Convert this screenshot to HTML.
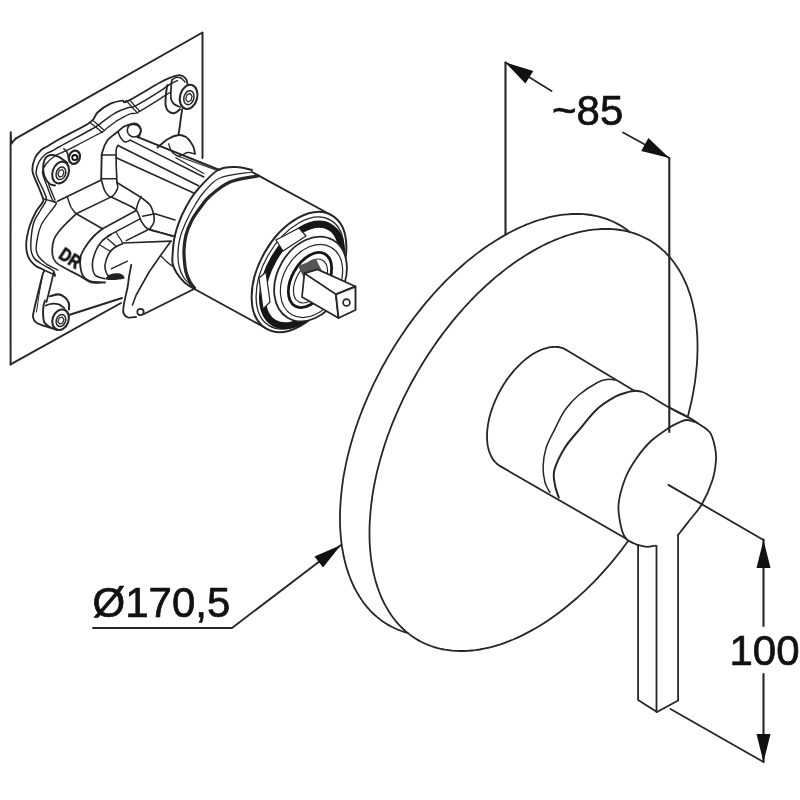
<!DOCTYPE html>
<html><head><meta charset="utf-8"><style>
html,body{margin:0;padding:0;background:#fff;}
svg{display:block;}
text{font-family:"Liberation Sans",sans-serif;fill:#111;stroke:#111;stroke-width:0.7px;}
</style></head><body>
<svg width="800" height="800" viewBox="0 0 800 800" stroke-linecap="round" stroke-linejoin="round">
<rect width="800" height="800" fill="#fff"/>
<path d="M388.5,625.1 L391.6,626.8 L394.8,628.3 L398.0,629.7 L401.4,631.0 L404.8,632.1 L407.8,633.0" stroke="#262626" stroke-width="1.80" fill="none"/>
<path d="M629.8,232.0 L629.7,232.0 L626.9,229.8 L624.0,227.8 L621.0,225.8 L618.0,224.1 L614.8,222.5 L611.6,221.0 L608.3,219.6 L604.9,218.4 L601.5,217.3 L598.0,216.4 L594.4,215.7 L590.8,215.0 L587.1,214.5 L583.4,214.2 L579.6,214.0 L575.7,213.9 L571.8,214.0 L567.9,214.3 L563.9,214.7 L559.8,215.2 L555.8,215.9 L551.7,216.7 L547.5,217.7 L543.3,218.8 L539.1,220.0 L534.9,221.4 L530.7,223.0 L526.4,224.6 L522.1,226.5 L517.8,228.4 L513.5,230.5 L509.2,232.7 L504.9,235.1 L500.6,237.6 L496.3,240.2 L492.0,242.9 L487.7,245.8 L483.4,248.8 L479.1,251.9 L474.9,255.1 L470.7,258.5 L466.4,261.9 L462.3,265.5 L458.1,269.2 L454.0,273.0 L449.9,276.9 L445.8,280.9 L441.8,285.0 L437.9,289.2 L433.9,293.5 L430.1,297.9 L426.2,302.4 L422.5,306.9 L418.8,311.6 L415.1,316.3 L411.5,321.1 L408.0,325.9 L404.5,330.9 L401.1,335.9 L397.8,340.9 L394.6,346.0 L391.4,351.2 L388.3,356.4 L385.3,361.7 L382.3,367.0 L379.5,372.4 L376.7,377.8 L374.0,383.2 L371.5,388.6 L369.0,394.1 L366.6,399.6 L364.3,405.1 L362.0,410.7 L359.9,416.2 L357.9,421.8 L356.0,427.3 L354.2,432.8 L352.5,438.4 L350.9,443.9 L349.4,449.4 L348.0,454.9 L346.7,460.4 L345.6,465.9 L344.5,471.3 L343.5,476.7 L342.7,482.1 L342.0,487.4 L341.4,492.7 L340.9,497.9 L340.5,503.1 L340.2,508.2 L340.0,513.3 L340.0,518.3 L340.0,523.2 L340.2,528.1 L340.5,532.9 L340.9,537.6 L341.4,542.3 L342.0,546.9 L342.8,551.4 L343.6,555.8 L344.6,560.1 L345.6,564.3 L346.8,568.4 L348.1,572.4 L349.5,576.3 L351.0,580.2 L352.6,583.9 L354.3,587.5 L356.1,590.9 L358.1,594.3 L360.1,597.6 L362.2,600.7 L364.4,603.7 L366.7,606.6 L369.1,609.4 L371.6,612.0 L374.2,614.5 L376.9,616.9 L379.7,619.1 L382.5,621.2 L385.5,623.2 L388.5,625.1" stroke="#262626" stroke-width="1.80" fill="none"/>
<path d="M418.0,640.1 L421.1,641.8 L424.3,643.3 L427.5,644.7 L430.9,646.0 L434.3,647.1 L437.7,648.1 L441.3,649.0 L444.9,649.7 L448.5,650.2 L452.2,650.7 L456.0,650.9 L459.8,651.0 L463.7,651.0 L467.6,650.9 L471.6,650.5 L475.6,650.1 L479.7,649.5 L483.8,648.7 L487.9,647.8 L492.1,646.8 L496.2,645.6 L500.5,644.3 L504.7,642.8 L509.0,641.2 L513.2,639.5 L517.5,637.6 L521.8,635.6 L526.1,633.4 L530.4,631.1 L534.7,628.7 L539.0,626.2 L543.4,623.5 L547.7,620.7 L551.9,617.7 L556.2,614.7 L560.5,611.5 L564.7,608.2 L568.9,604.8 L573.1,601.3 L577.3,597.7 L581.5,593.9 L585.6,590.1 L589.6,586.1 L593.7,582.1 L597.7,577.9 L601.6,573.7 L605.5,569.3 L609.4,564.9 L613.2,560.4 L616.9,555.8 L620.6,551.1 L624.2,546.3 L627.8,541.5 L628.1,541.0" stroke="#262626" stroke-width="1.80" fill="none"/>
<path d="M687.8,416.7 L688.8,412.8 L690.1,407.3 L691.4,401.8 L692.5,396.4 L693.5,391.0 L694.4,385.6 L695.2,380.3 L695.8,375.0 L696.4,369.7 L696.9,364.5 L697.2,359.4 L697.4,354.3 L697.5,349.2 L697.5,344.2 L697.4,339.3 L697.2,334.5 L696.8,329.7 L696.4,325.0 L695.8,320.4 L695.1,315.9 L694.3,311.4 L693.4,307.1 L692.4,302.8 L691.3,298.6 L690.1,294.6 L688.7,290.6 L687.3,286.7 L685.7,283.0 L684.0,279.3 L682.3,275.8 L680.4,272.4 L678.4,269.0 L676.4,265.9 L674.2,262.8 L671.9,259.8 L669.6,257.0 L667.1,254.3 L664.6,251.7 L661.9,249.3 L659.2,247.0 L656.4,244.8 L653.5,242.8 L650.5,240.8 L647.5,239.1 L644.3,237.5 L641.1,236.0 L637.8,234.6 L634.4,233.4 L631.0,232.3 L627.5,231.4 L623.9,230.7 L620.3,230.0 L616.6,229.5 L612.9,229.2 L609.1,229.0 L605.2,228.9 L601.3,229.0 L597.4,229.3 L593.4,229.7 L589.3,230.2 L585.3,230.9 L581.2,231.7 L577.0,232.7 L572.8,233.8 L568.6,235.0 L564.4,236.4 L560.2,238.0 L555.9,239.6 L551.6,241.5 L547.3,243.4 L543.0,245.5 L538.7,247.7 L534.4,250.1 L530.1,252.6 L525.8,255.2 L521.5,257.9 L517.2,260.8 L512.9,263.8 L508.6,266.9 L504.4,270.1 L500.2,273.5 L495.9,276.9 L491.8,280.5 L487.6,284.2 L483.5,288.0 L479.4,291.9 L475.3,295.9 L471.3,300.0 L467.4,304.2 L463.4,308.5 L459.6,312.9 L455.7,317.4 L452.0,321.9 L448.3,326.6 L444.6,331.3 L441.0,336.1 L437.5,340.9 L434.0,345.9 L430.6,350.9 L427.3,355.9 L424.1,361.0 L420.9,366.2 L417.8,371.4 L414.8,376.7 L411.8,382.0 L409.0,387.4 L406.2,392.8 L403.5,398.2 L401.0,403.6 L398.5,409.1 L396.1,414.6 L393.8,420.1 L391.5,425.7 L389.4,431.2 L387.4,436.8 L385.5,442.3 L383.7,447.8 L382.0,453.4 L380.4,458.9 L378.9,464.4 L377.5,469.9 L376.2,475.4 L375.1,480.9 L374.0,486.3 L373.0,491.7 L372.2,497.1 L371.5,502.4 L370.9,507.7 L370.4,512.9 L370.0,518.1 L369.7,523.2 L369.5,528.3 L369.5,533.3 L369.5,538.2 L369.7,543.1 L370.0,547.9 L370.4,552.6 L370.9,557.3 L371.5,561.9 L372.3,566.4 L373.1,570.8 L374.1,575.1 L375.1,579.3 L376.3,583.4 L377.6,587.4 L379.0,591.3 L380.5,595.2 L382.1,598.9 L383.8,602.5 L385.6,605.9 L387.6,609.3 L389.6,612.6 L391.7,615.7 L393.9,618.7 L396.2,621.6 L398.6,624.4 L401.1,627.0 L403.7,629.5 L406.4,631.9 L409.2,634.1 L412.0,636.2 L415.0,638.2 L418.0,640.1" stroke="#262626" stroke-width="1.80" fill="none"/>
<path d="M566.0,349.7 L564.7,349.0 L563.3,348.4 L561.9,347.9 L560.4,347.5 L558.9,347.2 L557.4,347.0 L555.8,346.9 L554.2,346.9 L552.5,347.0 L550.8,347.2 L549.1,347.4 L547.4,347.8 L545.6,348.3 L543.8,348.8 L542.0,349.5 L540.2,350.2 L538.4,351.1 L536.5,352.0 L534.7,353.0 L532.9,354.1 L531.0,355.3 L529.2,356.6 L527.4,357.9 L525.5,359.3 L523.7,360.9 L521.9,362.4 L520.2,364.1 L518.4,365.8 L516.7,367.6 L515.0,369.5 L513.3,371.4 L511.7,373.4 L510.1,375.4 L508.5,377.5 L506.9,379.6 L505.5,381.8 L504.0,384.0 L502.6,386.3 L501.3,388.5 L500.0,390.9 L498.7,393.2 L497.5,395.6 L496.4,398.0 L495.3,400.4 L494.3,402.8 L493.3,405.2 L492.4,407.7 L491.6,410.1 L490.8,412.5 L490.1,414.9 L489.5,417.3 L488.9,419.7 L488.5,422.1 L488.0,424.5 L487.7,426.8 L487.4,429.1 L487.2,431.4 L487.1,433.6 L487.0,435.8 L487.0,437.9 L487.1,440.0 L487.3,442.1 L487.5,444.1 L487.8,446.0 L488.2,447.9 L488.7,449.7 L489.2,451.4 L489.8,453.1 L490.5,454.7 L491.2,456.3 L492.0,457.7 L492.8,459.1 L493.8,460.4 L494.7,461.6 L495.8,462.7 L496.9,463.8 L498.1,464.7 L499.3,465.6 L500.6,466.4" stroke="#262626" stroke-width="1.80" fill="none"/>
<path d="M566.0,349.7 L633.8,390.6" stroke="#262626" stroke-width="1.80" fill="none"/>
<path d="M633.8,390.6 C635.2,390.8 639.8,391.1 642.5,392.0 C645.2,392.9 645.4,393.3 650.0,396.0 C654.6,398.7 663.8,404.5 670.0,408.0 C676.2,411.5 684.6,415.4 687.5,416.9" stroke="#262626" stroke-width="1.80" fill="none"/>
<path d="M670.0,408.0 C672.9,409.5 682.9,414.4 687.5,416.9 C692.1,419.4 693.8,420.4 697.5,423.0 C701.2,425.6 707.1,428.4 710.0,432.5 C712.9,436.6 714.0,442.9 715.0,447.5 C716.0,452.1 716.4,454.6 716.0,460.0 C715.6,465.4 714.8,472.7 712.5,480.0 C710.2,487.3 705.9,497.2 702.0,504.0 C698.1,510.8 693.0,515.8 689.0,521.0 C685.0,526.2 679.9,532.7 678.1,535.0" stroke="#262626" stroke-width="1.80" fill="none"/>
<path d="M500.6,466.4 L626.2,538.8" stroke="#262626" stroke-width="1.80" fill="none"/>
<path d="M615.0,380.0 C613.8,379.9 610.4,379.0 607.5,379.4 C604.6,379.8 602.3,379.9 597.5,382.5 C592.7,385.1 584.2,390.4 578.8,395.0 C573.3,399.6 569.0,404.4 565.0,410.0 C561.0,415.6 558.1,422.5 555.0,428.8 C551.9,435.0 548.2,441.2 546.2,447.5 C544.3,453.8 543.3,460.4 543.1,466.2 C542.9,472.1 543.9,478.1 545.0,482.5 C546.1,486.9 549.2,490.8 550.0,492.5" stroke="#262626" stroke-width="1.50" fill="none"/>
<path d="M635.0,391.0 C634.0,391.1 631.9,391.0 628.8,391.9 C625.6,392.8 621.5,393.4 616.2,396.2 C611.0,399.1 603.5,403.3 597.5,408.8 C591.5,414.2 585.4,422.3 580.0,428.8 C574.6,435.2 569.3,440.6 565.0,447.5 C560.7,454.4 556.1,463.8 554.4,470.0 C552.7,476.2 554.3,480.4 555.0,485.0 C555.7,489.6 558.1,495.4 558.8,497.5" stroke="#262626" stroke-width="2.00" fill="none"/>
<path d="M697.5,423.0 C695.8,422.5 690.4,420.2 687.5,420.0 C684.6,419.8 683.0,420.8 680.0,422.0 C677.0,423.2 674.2,424.3 669.4,427.5 C664.6,430.7 656.6,435.8 651.0,441.0 C645.4,446.2 640.3,452.7 636.0,459.0 C631.7,465.3 627.9,471.3 625.0,479.0 C622.1,486.7 619.1,496.9 618.5,505.0 C617.9,513.1 620.0,521.9 621.2,527.5 C622.5,533.1 623.5,535.8 626.2,538.8 C629.0,541.7 635.6,544.0 637.5,545.0" stroke="#262626" stroke-width="1.80" fill="none"/>
<path d="M637.5,545.0 C639.1,545.3 643.9,546.8 646.9,546.9 C649.9,547.0 654.1,545.8 655.6,545.6" stroke="#262626" stroke-width="1.80" fill="none"/>
<path d="M638.1,545.0 L638.1,700.0 L657.0,712.0 L678.1,700.5 L678.1,535.0" stroke="#262626" stroke-width="1.80" fill="none"/>
<path d="M656.5,546.0 L656.5,712.0" stroke="#262626" stroke-width="1.80" fill="none"/>
<path d="M505.5,62.5 L505.5,234.0" stroke="#262626" stroke-width="2.10" fill="none"/>
<path d="M669.3,158.0 L669.3,432.0" stroke="#262626" stroke-width="2.10" fill="none"/>
<path d="M505.5,62.5 L551.5,91.0" stroke="#262626" stroke-width="1.80" fill="none"/>
<path d="M623.0,132.5 L669.3,158.0" stroke="#262626" stroke-width="1.80" fill="none"/>
<path d="M505.5,62.5 L533.3,70.9 L525.4,83.6 Z" fill="#111" stroke="none"/>
<path d="M669.3,158.0 L641.2,151.1 L648.4,137.9 Z" fill="#111" stroke="none"/>
<path d="M668.4,484.9 L763.5,540.0" stroke="#262626" stroke-width="1.80" fill="none"/>
<path d="M670.5,709.0 L763.5,762.0" stroke="#262626" stroke-width="1.80" fill="none"/>
<path d="M763.5,539.5 L763.5,626.0" stroke="#262626" stroke-width="2.10" fill="none"/>
<path d="M763.5,674.0 L763.5,762.0" stroke="#262626" stroke-width="2.10" fill="none"/>
<path d="M763.5,540.0 L770.5,568.0 L756.5,568.0 Z" fill="#111" stroke="none"/>
<path d="M763.5,762.0 L756.5,734.0 L770.5,734.0 Z" fill="#111" stroke="none"/>
<path d="M93.0,628.0 L232.0,628.0 L341.0,545.0" stroke="#262626" stroke-width="1.80" fill="none"/>
<path d="M341.0,545.0 L323.0,567.5 L314.5,556.4 Z" fill="#111" stroke="none"/>
<path d="M10.6,364.4 C10.6,328.7 10.4,186.8 10.6,150.0 C10.8,113.2 10.6,145.4 11.5,143.5 C12.4,141.6 15.2,139.2 16.0,138.4" stroke="#262626" stroke-width="1.95" fill="none"/>
<path d="M16.0,138.4 L202.5,32.5 L202.5,158.0" stroke="#262626" stroke-width="1.95" fill="none"/>
<path d="M10.6,364.4 L121.0,303.0" stroke="#262626" stroke-width="1.95" fill="none"/>
<path d="M187.5,84.0 C187.2,83.1 187.2,80.2 186.0,78.8 C184.8,77.3 182.3,75.5 180.0,75.2 C177.7,74.9 175.3,75.8 172.0,77.0 C168.7,78.2 167.4,78.5 160.0,82.5 C152.6,86.5 133.8,98.2 127.5,101.2 C121.2,104.3 125.4,100.2 122.5,100.6 C119.6,101.0 114.2,101.8 110.0,103.8 C105.8,105.7 100.8,109.4 97.5,112.5 C94.2,115.6 96.2,118.1 90.0,122.5 C83.8,126.9 67.0,134.8 60.0,138.8 C53.0,142.7 51.1,144.1 48.0,146.0 C44.9,147.9 43.4,148.0 41.2,150.0 C39.1,152.0 36.5,154.5 35.0,158.0 C33.5,161.5 31.9,166.3 32.5,171.2 C33.1,176.2 37.0,182.9 38.8,187.5 C40.5,192.1 42.5,196.2 43.1,198.8 C43.7,201.2 43.6,200.4 42.5,202.5 C41.4,204.6 38.3,207.5 36.2,211.2 C34.2,215.0 31.6,220.6 30.0,225.0 C28.4,229.4 27.5,234.2 26.9,237.5 C26.3,240.8 26.2,242.5 26.2,245.0 C26.2,247.5 26.3,250.0 26.9,252.5 C27.5,255.0 28.4,257.7 30.0,260.0 C31.6,262.3 34.0,264.6 36.2,266.2 C38.5,267.9 42.7,268.5 43.8,270.0 C44.8,271.5 43.3,271.7 42.5,275.0 C41.7,278.3 40.2,284.0 38.8,290.0 C37.3,296.0 34.7,306.7 33.8,311.2 C32.8,315.8 32.7,315.6 33.1,317.5 C33.5,319.4 34.3,321.0 36.2,322.5 C38.2,324.0 42.4,325.3 45.0,326.2 C47.6,327.2 50.8,327.7 52.0,328.0" stroke="#262626" stroke-width="1.84" fill="none"/>
<path d="M177.5,80.6 C176.0,81.3 171.7,83.2 168.8,85.0 C165.8,86.8 165.6,87.7 160.0,91.2 C154.4,94.8 140.2,103.5 135.0,106.2 C129.8,109.0 132.3,106.2 128.8,107.5 C125.2,108.8 118.5,111.0 113.8,113.8 C109.0,116.5 103.6,121.2 100.0,123.8 C96.4,126.3 98.7,125.2 92.0,129.0 C85.3,132.8 66.7,142.8 60.0,146.5 C53.3,150.2 54.3,149.8 52.0,151.0 C49.7,152.2 48.4,151.9 46.2,153.8 C44.1,155.6 40.7,158.7 39.0,162.0 C37.3,165.3 35.5,168.9 36.2,173.8 C37.0,178.6 42.1,186.9 43.8,191.2 C45.4,195.6 46.8,196.9 46.2,200.0 C45.7,203.1 42.7,206.2 40.6,210.0 C38.5,213.8 35.3,217.9 33.8,222.5 C32.2,227.1 31.7,232.9 31.2,237.5 C30.8,242.1 30.5,246.6 31.0,250.0 C31.5,253.4 32.5,255.8 34.0,258.0 C35.5,260.2 37.5,261.3 40.0,263.0 C42.5,264.7 46.7,266.6 49.0,268.0 C51.3,269.4 52.8,269.9 53.8,271.2 C54.8,272.6 54.8,275.4 55.0,276.2" stroke="#262626" stroke-width="1.49" fill="none"/>
<path d="M170.0,92.5 C168.3,93.5 165.4,95.4 160.0,98.8 C154.6,102.1 142.5,110.0 137.5,112.5 C132.5,115.0 133.5,112.3 130.0,113.8 C126.5,115.2 120.2,118.8 116.2,121.2 C112.3,123.8 108.8,126.9 106.2,128.8 C103.8,130.6 107.3,129.2 101.2,132.5 C95.2,135.8 77.7,144.8 70.0,148.8 C62.3,152.7 59.0,153.5 55.0,156.0 C51.0,158.5 48.1,161.2 46.0,164.0 C43.9,166.8 42.3,168.8 42.5,172.5 C42.7,176.2 45.3,181.4 47.0,186.0 C48.7,190.6 51.0,197.0 52.5,200.0 C54.0,203.0 56.9,201.5 56.2,203.8 C55.6,206.0 51.2,210.2 48.8,213.8 C46.2,217.3 43.1,221.0 41.2,225.0 C39.4,229.0 38.3,233.3 37.5,237.5 C36.7,241.7 36.0,246.8 36.2,250.0 C36.5,253.2 37.3,254.7 39.0,257.0 C40.7,259.3 43.1,261.6 46.2,263.8 C49.4,265.9 56.0,269.0 58.0,270.0" stroke="#262626" stroke-width="1.38" fill="none"/>
<path d="M90.0,122.5 L102.5,132.5" stroke="#262626" stroke-width="1.38" fill="none"/>
<path d="M93.0,120.5 L104.5,130.5" stroke="#262626" stroke-width="1.15" fill="none"/>
<path d="M126.2,100.6 L137.5,113.1" stroke="#262626" stroke-width="1.38" fill="none"/>
<path d="M129.5,100.0 L139.5,111.0" stroke="#262626" stroke-width="1.15" fill="none"/>
<path d="M43.8,198.8 L56.2,202.5" stroke="#262626" stroke-width="1.38" fill="none"/>
<path d="M43.8,270.0 L55.0,275.0" stroke="#262626" stroke-width="1.38" fill="none"/>
<path d="M42.5,276.0 C42.0,278.7 40.5,286.0 39.5,292.0 C38.5,298.0 37.0,308.7 36.5,312.0" stroke="#262626" stroke-width="1.03" fill="none"/>
<path d="M53.7,272.5 C53.1,275.1 51.2,283.1 50.0,288.0 C48.8,292.9 47.1,299.7 46.5,302.0" stroke="#262626" stroke-width="1.72" fill="none"/>
<path d="M171.8,80.0 C171.6,81.7 171.1,86.9 171.0,90.0 C170.9,93.1 170.5,96.4 171.0,98.8 C171.5,101.1 172.5,102.6 174.0,104.0 C175.5,105.4 179.0,106.5 180.0,107.0" stroke="#262626" stroke-width="1.72" fill="none"/>
<path d="M167.2,85.2 C167.0,87.0 166.0,92.5 165.8,96.0 C165.5,99.5 165.2,103.7 165.8,106.2 C166.2,108.8 167.2,110.4 168.8,111.5 C170.2,112.6 172.9,113.4 174.8,113.0 C176.6,112.6 179.1,109.9 180.0,109.2" stroke="#262626" stroke-width="1.95" fill="none"/>
<path d="M171.8,80.0 C172.5,79.6 174.5,77.8 176.0,77.5 C177.5,77.2 179.5,77.2 181.0,78.0 C182.5,78.8 184.3,81.3 185.0,82.0" stroke="#262626" stroke-width="1.49" fill="none"/>
<ellipse cx="188.6" cy="96.9" rx="8.6" ry="12.3" transform="rotate(15 188.6 96.9)" fill="#fff" stroke="#262626" stroke-width="2.07"/>
<ellipse cx="188.9" cy="97.7" rx="4.99" ry="7.13" transform="rotate(15 188.9 97.7)" fill="none" stroke="#262626" stroke-width="1.49"/>
<path d="M190.9,100.5 L187.8,102.0 L185.7,99.1 L186.9,94.9 L190.0,93.4 L192.1,96.3 Z" fill="none" stroke="#262626" stroke-width="1.26"/>
<path d="M182.2,109.2 C182.0,110.5 181.4,114.4 181.0,117.0 C180.6,119.6 180.4,122.2 180.0,125.0 C179.6,127.8 178.8,132.5 178.5,134.0" stroke="#262626" stroke-width="1.84" fill="none"/>
<path d="M67.5,163.0 C67.0,162.6 65.9,161.6 64.4,160.6 C62.9,159.6 60.7,157.8 58.8,156.9 C56.8,156.0 54.4,155.1 52.5,155.0 C50.6,154.9 48.8,155.4 47.5,156.2 C46.2,157.1 45.2,158.2 44.5,160.0 C43.8,161.8 43.1,164.2 43.1,166.9 C43.1,169.6 43.4,173.4 44.4,176.2 C45.4,179.1 47.6,182.2 49.4,183.8 C51.2,185.3 54.1,185.2 55.0,185.5" stroke="#262626" stroke-width="1.95" fill="none"/>
<ellipse cx="60.6" cy="172.5" rx="8.0" ry="11.2" transform="rotate(20 60.6 172.5)" fill="#fff" stroke="#262626" stroke-width="2.07"/>
<ellipse cx="60.9" cy="173.3" rx="4.64" ry="6.50" transform="rotate(20 60.9 173.3)" fill="none" stroke="#262626" stroke-width="1.49"/>
<path d="M62.6,176.0 L59.5,177.1 L57.9,174.3 L59.2,170.6 L62.3,169.5 L63.9,172.3 Z" fill="none" stroke="#262626" stroke-width="1.26"/>
<ellipse cx="74.4" cy="157.2" rx="5.4" ry="6.8" transform="rotate(20 74.4 157.2)" fill="#fff" stroke="#262626" stroke-width="2.30"/>
<circle cx="74.8" cy="157.6" r="2.6" fill="none" stroke="#111" stroke-width="1.84"/>
<path d="M63.8,148.8 C64.3,149.3 66.2,150.5 67.0,152.0 C67.8,153.5 68.2,157.0 68.5,158.0" stroke="#262626" stroke-width="1.61" fill="none"/>
<path d="M48.8,185.0 L55.0,200.0" stroke="#262626" stroke-width="1.38" fill="none"/>
<path d="M50.0,296.2 C51.5,295.9 56.2,294.2 58.8,294.4 C61.2,294.6 63.3,296.1 65.0,297.5 C66.7,298.9 68.1,301.1 68.8,303.1 C69.4,305.1 69.0,308.3 69.0,309.4" stroke="#262626" stroke-width="2.07" fill="none"/>
<path d="M45.0,300.6 C44.8,301.5 43.8,303.9 43.5,306.0 C43.2,308.1 43.0,310.4 43.1,313.1 C43.2,315.9 43.1,320.1 44.4,322.5 C45.6,324.9 48.5,326.2 50.6,327.5 C52.7,328.8 55.9,329.6 56.9,330.0" stroke="#262626" stroke-width="1.95" fill="none"/>
<path d="M45.6,305.6 C46.5,305.3 49.1,303.9 51.2,303.8 C53.4,303.6 56.6,303.7 58.8,304.4 C60.9,305.1 63.5,307.5 64.4,308.1" stroke="#262626" stroke-width="1.72" fill="none"/>
<ellipse cx="60.6" cy="319.7" rx="8.0" ry="10.5" transform="rotate(20 60.6 319.7)" fill="#fff" stroke="#262626" stroke-width="2.07"/>
<ellipse cx="60.9" cy="320.5" rx="4.64" ry="6.09" transform="rotate(20 60.9 320.5)" fill="none" stroke="#262626" stroke-width="1.49"/>
<path d="M62.6,323.1 L59.6,324.0 L57.9,321.4 L59.2,317.9 L62.2,317.0 L63.9,319.6 Z" fill="none" stroke="#262626" stroke-width="1.26"/>
<path d="M69.0,315.0 L122.0,298.0" stroke="#262626" stroke-width="1.84" fill="none"/>
<path d="M131.2,265.0 C130.9,267.0 129.6,273.2 129.0,277.0 C128.4,280.8 128.4,282.8 127.5,287.5 C126.6,292.2 124.4,300.8 123.8,305.0 C123.1,309.2 122.8,310.9 123.5,313.0 C124.2,315.1 125.9,316.8 128.0,317.5 C130.1,318.2 134.7,317.1 136.0,317.0" stroke="#262626" stroke-width="1.84" fill="none"/>
<path d="M170.0,242.5 L160.0,256.2 L148.8,272.5 L136.2,295.0 L132.5,305.0" stroke="#262626" stroke-width="1.61" fill="none"/>
<circle cx="140.5" cy="312" r="3.2" fill="none" stroke="#262626" stroke-width="1.7"/>
<path d="M144.0,314.0 L194.0,289.0" stroke="#262626" stroke-width="1.84" fill="none"/>
<path d="M161.2,256.2 C162.2,257.2 165.1,260.3 167.0,262.0 C168.9,263.7 171.6,265.5 172.5,266.2" stroke="#262626" stroke-width="1.38" fill="none"/>
<path d="M101.2,179.4 C101.3,177.0 101.3,169.5 101.5,165.0 C101.7,160.5 101.2,156.6 102.2,152.5 C103.2,148.4 104.9,143.8 107.5,140.2 C110.1,136.8 115.1,133.9 118.0,131.5 C120.9,129.1 122.1,127.2 125.0,126.0 C127.9,124.8 132.9,123.9 135.5,124.5 C138.1,125.1 140.2,127.7 140.8,129.8 C141.3,131.8 139.3,135.6 139.0,136.8" stroke="#262626" stroke-width="1.84" fill="none"/>
<path d="M116.9,182.0 C116.8,179.2 116.4,170.3 116.2,165.0 C116.1,159.7 116.0,153.2 116.2,150.0 C116.5,146.8 117.7,146.2 118.0,145.5" stroke="#262626" stroke-width="1.61" fill="none"/>
<path d="M118.0,131.5 C118.4,132.5 119.3,135.8 120.5,137.5 C121.7,139.2 123.4,141.5 125.0,142.0 C126.6,142.5 129.4,140.5 130.2,140.2" stroke="#262626" stroke-width="1.49" fill="none"/>
<circle cx="134.1" cy="130.2" r="6.8" fill="none" stroke="#262626" stroke-width="1.61"/>
<path d="M101.2,155.0 L116.2,155.0" stroke="#262626" stroke-width="1.38" fill="none"/>
<path d="M101.2,178.8 L116.2,178.8" stroke="#262626" stroke-width="1.38" fill="none"/>
<path d="M101.2,179.4 C101.9,181.4 103.3,188.3 105.0,191.2 C106.7,194.2 109.2,197.3 111.2,196.9 C113.3,196.5 116.6,191.2 117.5,188.8 C118.4,186.3 117.0,183.1 116.9,182.0" stroke="#262626" stroke-width="1.61" fill="none"/>
<path d="M137.2,136.8 L219.5,170.0" stroke="#262626" stroke-width="1.95" fill="none"/>
<path d="M130.2,140.2 L203.8,177.0" stroke="#262626" stroke-width="1.49" fill="none"/>
<path d="M118.0,145.5 L198.5,185.8" stroke="#262626" stroke-width="1.72" fill="none"/>
<path d="M116.2,157.8 L193.2,192.8" stroke="#262626" stroke-width="1.72" fill="none"/>
<path d="M177.5,156.0 L216.0,170.0" stroke="#262626" stroke-width="1.26" fill="none"/>
<path d="M175.8,157.8 L203.8,173.5" stroke="#262626" stroke-width="1.26" fill="none"/>
<path d="M157.5,147.5 C159.2,146.1 164.5,141.1 168.0,139.0 C171.5,136.9 175.8,135.3 178.8,135.0 C181.8,134.7 184.1,136.0 186.0,137.0 C187.9,138.0 188.8,139.6 190.0,141.2 C191.2,142.9 192.7,144.9 193.5,147.0 C194.3,149.1 194.8,152.6 195.0,153.8" stroke="#262626" stroke-width="1.84" fill="none"/>
<path d="M168.8,143.8 C169.0,144.5 169.4,146.5 170.0,148.0 C170.6,149.5 171.0,151.1 172.5,152.5 C174.0,153.9 176.2,156.2 178.8,156.2 C181.2,156.2 185.0,152.9 187.5,152.5 C190.0,152.1 192.7,153.5 193.8,153.8" stroke="#262626" stroke-width="1.38" fill="none"/>
<path d="M57.5,201.2 L101.2,180.0" stroke="#262626" stroke-width="1.72" fill="none"/>
<path d="M67.5,197.5 C68.1,199.2 69.8,204.8 71.2,207.5 C72.7,210.2 75.4,212.7 76.2,213.8" stroke="#262626" stroke-width="1.49" fill="none"/>
<path d="M76.2,213.8 L111.2,196.9" stroke="#262626" stroke-width="1.61" fill="none"/>
<path d="M111.2,196.9 C113.5,198.0 120.8,201.3 125.0,203.5 C129.2,205.7 133.5,207.0 136.2,210.0 C139.0,213.0 139.4,218.1 141.2,221.2 C143.1,224.4 144.4,226.9 147.5,228.8 C150.6,230.6 155.4,231.2 160.0,232.5 C164.6,233.8 172.5,235.6 175.0,236.2" stroke="#262626" stroke-width="1.61" fill="none"/>
<path d="M116.9,182.5 L141.2,197.5" stroke="#262626" stroke-width="1.61" fill="none"/>
<path d="M141.2,197.5 C142.7,198.8 147.9,202.1 150.0,205.0 C152.1,207.9 153.1,212.1 153.8,215.0 C154.4,217.9 154.4,220.2 153.8,222.5 C153.1,224.8 150.6,227.7 150.0,228.8" stroke="#262626" stroke-width="1.61" fill="none"/>
<path d="M141.2,196.5 C140.7,197.6 138.8,200.8 138.0,203.0 C137.2,205.2 136.5,208.8 136.2,210.0" stroke="#262626" stroke-width="1.49" fill="none"/>
<path d="M76.2,213.8 L102.5,228.8" stroke="#262626" stroke-width="1.61" fill="none"/>
<path d="M102.5,228.8 L136.2,210.5" stroke="#262626" stroke-width="1.61" fill="none"/>
<path d="M107.5,236.2 L140.0,218.8" stroke="#262626" stroke-width="1.49" fill="none"/>
<path d="M142.5,216.2 L155.0,213.8 L175.0,220.0" stroke="#262626" stroke-width="1.49" fill="none"/>
<path d="M76.2,213.8 C73.8,216.2 65.0,224.4 61.2,228.8 C57.5,233.1 55.2,235.6 53.8,240.0 C52.3,244.4 52.1,251.2 52.5,255.0 C52.9,258.8 54.0,260.2 56.2,262.5 C58.5,264.8 62.3,266.5 66.2,268.8 C70.2,271.0 75.8,273.7 80.0,276.0 C84.2,278.3 87.5,281.4 91.2,282.5 C95.0,283.6 100.6,282.5 102.5,282.5" stroke="#262626" stroke-width="1.72" fill="none"/>
<path d="M102.5,228.8 C101.1,230.0 96.5,233.5 94.0,236.0 C91.5,238.5 89.6,240.8 87.5,243.8 C85.4,246.8 82.8,251.0 81.5,254.0 C80.2,257.0 79.8,258.5 80.0,262.0 C80.2,265.5 80.8,271.8 82.5,275.0 C84.2,278.2 86.2,280.0 90.0,281.2 C93.8,282.5 102.5,282.3 105.0,282.5" stroke="#262626" stroke-width="1.84" fill="none"/>
<path d="M111.0,234.5 C109.5,235.6 104.5,238.4 102.0,241.0 C99.5,243.6 97.8,246.4 96.2,250.0 C94.7,253.6 92.7,258.3 92.5,262.5 C92.3,266.7 92.9,272.3 95.0,275.0 C97.1,277.7 103.3,278.1 105.0,278.8" stroke="#262626" stroke-width="1.61" fill="none"/>
<path d="M122.5,243.8 C121.1,244.5 116.3,246.3 114.0,248.0 C111.7,249.7 110.2,250.9 108.8,253.8 C107.2,256.6 105.4,261.9 105.0,265.0 C104.6,268.1 105.6,270.6 106.2,272.5 C106.9,274.4 108.3,275.6 108.8,276.2" stroke="#262626" stroke-width="1.61" fill="none"/>
<path d="M100.0,245.0 L110.0,251.2" stroke="#262626" stroke-width="1.26" fill="none"/>
<path d="M107.5,238.8 L116.2,246.2" stroke="#262626" stroke-width="1.26" fill="none"/>
<path d="M116.2,232.5 L122.5,242.5" stroke="#262626" stroke-width="1.26" fill="none"/>
<path d="M122.5,243.0 L171.2,241.2" stroke="#262626" stroke-width="1.72" fill="none"/>
<path d="M126.2,240.6 L147.5,230.0" stroke="#262626" stroke-width="1.49" fill="none"/>
<path d="M147.5,228.8 L172.5,236.2" stroke="#262626" stroke-width="1.49" fill="none"/>
<path d="M111.2,268.8 L127.5,261.2" stroke="#262626" stroke-width="1.38" fill="none"/>
<path d="M106,277.5 C109,273.5 115,272.5 120,273.5 C123,274.5 125,276.5 124.5,278.5 C119,280 111,280.5 106,279.5 Z" fill="#222"/>
<text filter="url(#gs)" transform="translate(57.5,257.5) rotate(33) scale(0.82,1)" font-size="18.5" font-weight="bold" fill="#111" stroke="#111" stroke-width="0.8" style="font-family:'Liberation Sans',sans-serif">DR</text>
<path d="M252.0,170.0 C249.3,169.5 241.7,167.0 236.0,167.0 C230.3,167.0 224.2,166.5 218.0,170.0 C211.8,173.5 203.7,183.0 199.0,188.0 C194.3,193.0 192.8,195.5 190.0,200.0 C187.2,204.5 184.2,210.3 182.0,215.0 C179.8,219.7 178.3,223.8 177.0,228.0 C175.7,232.2 174.7,236.0 174.0,240.0 C173.3,244.0 173.1,248.2 172.8,252.0 C172.6,255.8 171.9,259.5 172.5,263.0 C173.1,266.5 174.5,269.6 176.5,272.8 C178.5,276.1 181.6,279.8 184.6,282.5 C187.6,285.2 192.8,287.9 194.4,289.0" stroke="#262626" stroke-width="1.95" fill="none"/>
<path d="M252.0,172.0 C246.7,173.0 228.0,174.7 220.0,178.0 C212.0,181.3 208.2,187.5 204.0,192.0 C199.8,196.5 198.0,200.0 195.0,205.0 C192.0,210.0 188.5,216.5 186.0,222.0 C183.5,227.5 181.3,233.0 180.0,238.0 C178.7,243.0 178.2,247.3 178.0,252.0 C177.8,256.7 178.0,261.7 179.0,266.0 C180.0,270.3 181.4,274.3 184.0,278.0 C186.6,281.7 192.7,286.3 194.4,288.0" stroke="#262626" stroke-width="1.26" fill="none"/>
<path d="M258.0,176.0 C253.3,177.0 238.0,178.7 230.0,182.0 C222.0,185.3 215.0,191.7 210.0,196.0 C205.0,200.3 203.0,204.0 200.0,208.0 C197.0,212.0 194.3,215.5 192.0,220.0 C189.7,224.5 187.3,230.0 186.0,235.0 C184.7,240.0 184.2,245.5 184.0,250.0 C183.8,254.5 184.2,258.3 184.5,262.0 C184.8,265.7 185.1,268.7 186.0,272.0 C186.9,275.3 188.6,279.3 190.0,282.0 C191.4,284.7 193.7,287.0 194.4,288.0" stroke="#262626" stroke-width="3.22" fill="none"/>
<path d="M252.0,172.0 L332.0,215.5" stroke="#262626" stroke-width="1.95" fill="none"/>
<path d="M194.4,289.0 L266.5,328.5" stroke="#262626" stroke-width="1.95" fill="none"/>
<ellipse cx="299" cy="272" rx="65.5" ry="39.5" transform="rotate(120 299 272)" fill="#fff" stroke="#262626" stroke-width="2.0"/>
<ellipse cx="300" cy="273" rx="61" ry="36.5" transform="rotate(120 300 273)" fill="none" stroke="#262626" stroke-width="1.3"/>
<ellipse cx="302" cy="275" rx="55.5" ry="32.5" transform="rotate(120 302 275)" fill="none" stroke="#161616" stroke-width="7"/>
<path d="M276,240 L299,228 L306,236 L283,251 Z" fill="#fff" stroke="#222" stroke-width="1.2"/>
<path d="M259,278 L266,272 L270,302 L263,309 Z" fill="#fff" stroke="#222" stroke-width="1.2"/>
<ellipse cx="310.5" cy="279" rx="45" ry="33" transform="rotate(120 310.5 279)" fill="#fff" stroke="#262626" stroke-width="1.8"/>
<ellipse cx="311.5" cy="281" rx="39" ry="28" transform="rotate(120 311.5 281)" fill="none" stroke="#262626" stroke-width="1.2"/>
<ellipse cx="310" cy="280" rx="30" ry="18" transform="rotate(120 310 280)" fill="none" stroke="#151515" stroke-width="2.8"/>
<ellipse cx="310.5" cy="281" rx="24" ry="14" transform="rotate(120 310.5 281)" fill="none" stroke="#262626" stroke-width="1.2"/>
<path d="M298,266 L316,259 L322,271 L304,278 Z" fill="#555"/>
<path d="M304.4,273.4 L317.5,269.4 L355.5,286.5 L335.9,294.4 Z" fill="#fff" stroke="#262626" stroke-width="1.7"/>
<path d="M304.4,273.4 L335.9,294.4 L338.5,318 L302,297 Z" fill="#fff" stroke="#262626" stroke-width="1.7"/>
<path d="M335.9,294.4 L355.5,286.5 L355.5,310 L338.5,318 Z" fill="#fff" stroke="#262626" stroke-width="1.9"/>
<circle cx="346.5" cy="302.5" r="3.4" fill="none" stroke="#262626" stroke-width="1.7"/>
<filter id="gs" x="0" y="0" width="1" height="1"><feColorMatrix type="saturate" values="0"/></filter>
<g filter="url(#gs)">
<text x="552" y="124.6" font-size="42">~85</text>
<text x="729.5" y="664.5" font-size="42">100</text>
<text x="92.5" y="617.3" font-size="42">Ø170,5</text>
</g>
</svg>
</body></html>
